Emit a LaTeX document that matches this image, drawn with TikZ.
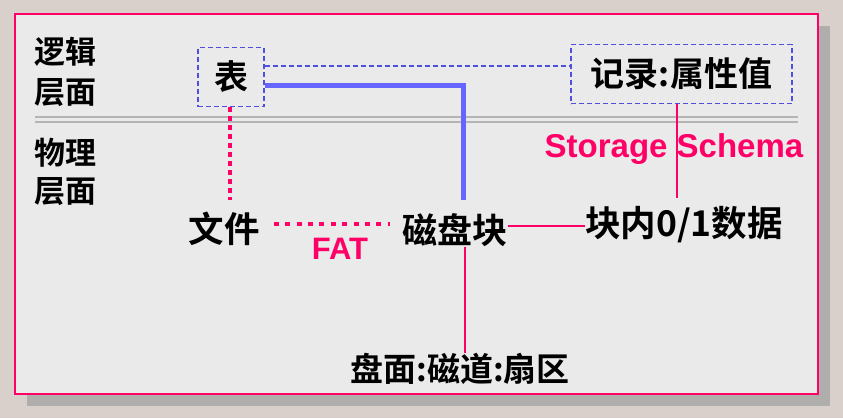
\documentclass[tikz,border=0pt]{standalone}
\usepackage{fontspec}
\newfontfamily\cjk{Noto Sans CJK SC}[BoldFont={* Bold}]
\newfontfamily\latb{Liberation Sans}
\definecolor{bgout}{HTML}{D9CFCB}
\definecolor{panel}{HTML}{EAEAEA}
\definecolor{shadow}{HTML}{B0ADAD}
\definecolor{pinkc}{HTML}{FF0066}
\definecolor{bluec}{HTML}{6666FF}
\definecolor{dashc}{HTML}{5050E0}
\definecolor{sepc}{HTML}{B4B4B4}
\tikzset{
  cjktxt/.style={inner sep=0pt, font=\cjk\bfseries\fontsize{35}{40}\selectfont},
  sidetxt/.style={inner sep=0pt, font=\cjk\bfseries\fontsize{31}{36}\selectfont},
  dbox/.style={draw=dashc, line width=1.4pt, dash pattern=on 5pt off 3pt, minimum width=66pt, minimum height=59pt, inner sep=0pt, font=\cjk\bfseries\fontsize{34}{40}\selectfont},
  dline/.style={draw=dashc, line width=1.4pt, dash pattern=on 5pt off 3pt},
  thickblue/.style={draw=bluec, line width=5pt},
  pinkdotv/.style={draw=pinkc, line width=4pt, dash pattern=on 4.5pt off 4.5pt},
  pinkdoth/.style={draw=pinkc, line width=4.5pt, dash pattern=on 5pt off 6.4pt},
  pinkline/.style={draw=pinkc, line width=1.3pt},
  pinktxt/.style={inner sep=0pt, text=pinkc, font=\latb\bfseries\fontsize{33}{36}\selectfont},
}
\begin{document}
\begin{tikzpicture}[x=1pt,y=-1pt]
\useasboundingbox (0,0) rectangle (843,418);
\fill[bgout] (0,0) rectangle (843,418);
\fill[shadow] (27,26) rectangle (830,406);
\filldraw[fill=panel, draw=pinkc, line width=2pt] (15,14) rectangle (818,394);
% separator
\draw[sepc, line width=2pt] (35,117) -- (798,117);
\draw[sepc, line width=2pt] (35,122) -- (798,122);
% side labels
\node[sidetxt] (l1) at (65,52) {逻辑};
\node[sidetxt] (l2) at (65,93) {层面};
\node[sidetxt] (p1) at (65,153) {物理};
\node[sidetxt] (p2) at (65,192) {层面};
% boxes
\node[dbox] (biao) at (231,77) {表};
\node[dbox, minimum width=221pt] (rec) at (681.5,74) {记录:属性值};
% physical nodes
\node[cjktxt, font=\cjk\bfseries\fontsize{35.5}{40}\selectfont] (wenjian) at (224,229) {文件};
\node[cjktxt] (cipan) at (455,230) {磁盘块};
\node[cjktxt, font=\cjk\bfseries\fontsize{35.5}{40}\selectfont] (kuai) at (684,225) {块内0/1数据};
\node[cjktxt, font=\cjk\bfseries\fontsize{33}{40}\selectfont] (panmian) at (460,369) {盘面:磁道:扇区};
\node[pinktxt] (schema) at (674,149) {Storage Schema};
\node[pinktxt, font=\latb\bfseries\fontsize{31}{36}\selectfont] (fat) at (340,249) {FAT};
% connectors
\draw[dline] (biao.east |- 0,66) -- (rec.west |- 0,66);
\coordinate (blueend) at (463,200);
\draw[thickblue] (biao.east |- 0,85) -| (blueend);
\coordinate (dotend) at (230,200);
\draw[pinkdotv] (biao.south -| dotend) -- (dotend);
\draw[pinkdoth] ([xshift=14pt]wenjian.east |- 0,224) -- ([xshift=-12pt]cipan.west |- 0,224);
\draw[pinkline] (cipan.east |- 0,226) -- (kuai.west |- 0,226);
\coordinate (recend) at (677,198);
\draw[pinkline] (rec.south -| recend) -- (recend);
\draw[pinkline] (cipan.south -| 465,0) -- (panmian.north -| 465,0);
\end{tikzpicture}
\end{document}
